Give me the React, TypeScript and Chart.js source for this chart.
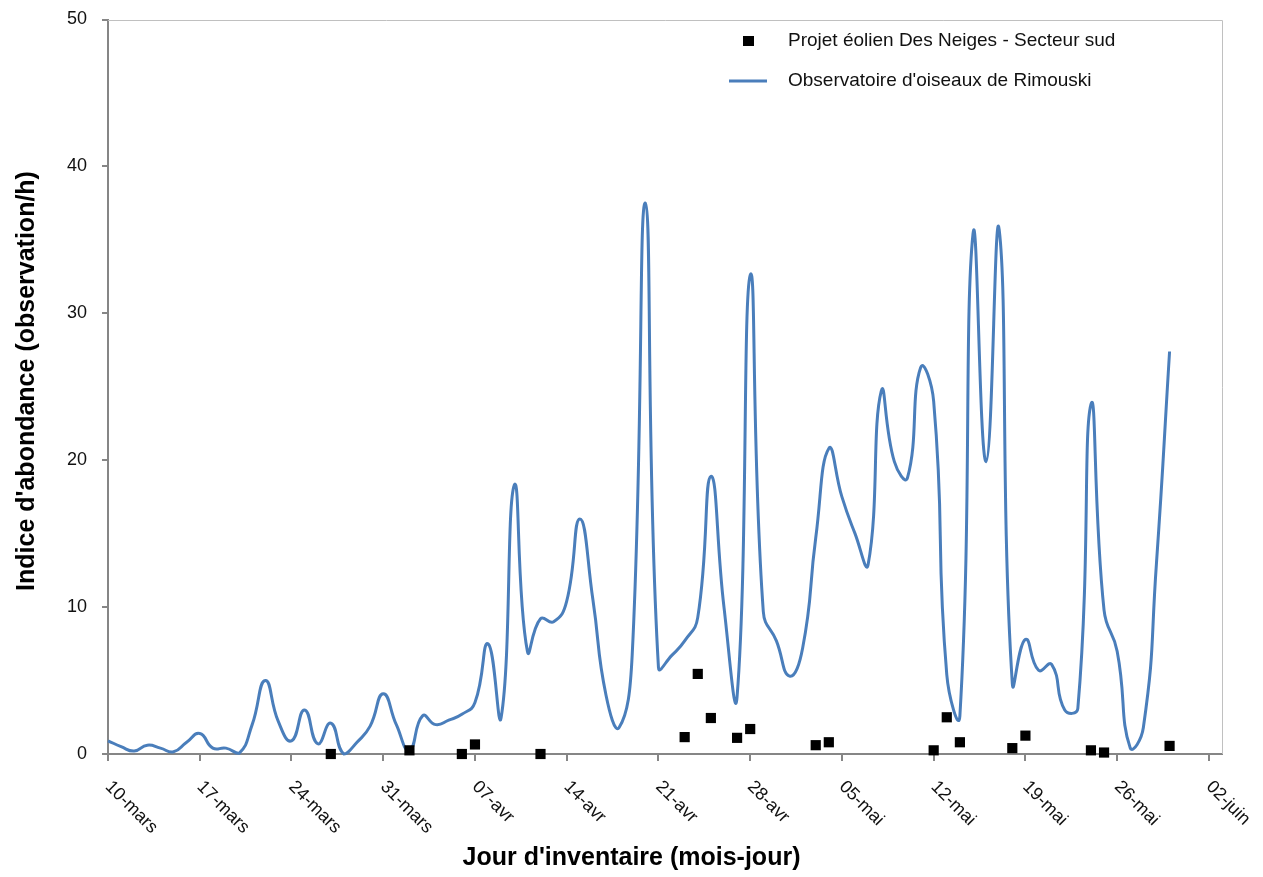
import { useEffect, useRef } from "react";
import { Chart, registerables } from "chart.js";

Chart.register(...registerables);

// Time frame of the survey (x axis runs in days since FIRST_DAY)
const FIRST_DAY = "2011-03-10";
const LAST_DAY = "2011-06-03";

const tickDates = [
  "2011-03-10", "2011-03-17", "2011-03-24", "2011-03-31", "2011-04-07",
  "2011-04-14", "2011-04-21", "2011-04-28", "2011-05-05", "2011-05-12",
  "2011-05-19", "2011-05-26", "2011-06-02",
];
const tickLabels = [
  "10-mars", "17-mars", "24-mars", "31-mars", "07-avr", "14-avr", "21-avr",
  "28-avr", "05-mai", "12-mai", "19-mai", "26-mai", "02-juin",
];
const yTicks = [0, 10, 20, 30, 40, 50];

// Observatoire d'oiseaux de Rimouski: one value per day from this date on
const rimouskiStart = "2011-03-10";
const rimouskiValues = [
  0.9, 0.5, 0.2, 0.6, 0.4, 0.15, 0.8, 1.4, 0.4, 0.4,
  0.05, 2.0, 5.0, 2.2, 0.9, 3.0, 0.7, 2.1, 0.0, 0.8,
  1.9, 4.1, 2.0, 0.25, 2.6, 2.0, 2.3, 2.7, 3.5, 7.5,
  2.5, 18.3, 7.0, 9.2, 9.0, 10.4, 16.0, 10.5, 4.0, 1.8,
  6.8, 37.5, 5.9, 6.7, 7.7, 9.3, 18.9, 10.0, 3.9, 32.6,
  9.7, 7.7, 5.3, 7.2, 14.7, 20.8, 17.5, 15.0, 12.9, 24.7,
  19.9, 18.8, 26.3, 24.0, 5.4, 2.6, 35.4, 19.9, 35.7, 4.8,
  7.8, 5.7, 6.1, 3.0, 3.1, 23.8, 9.8, 7.0, 0.4, 1.8,
  13.0, 27.4,
];

// Projet éolien Des Neiges - Secteur sud: survey days
const desNeigesDates = [
  "2011-03-27", "2011-04-02", "2011-04-06", "2011-04-07", "2011-04-12",
  "2011-04-23", "2011-04-24", "2011-04-25", "2011-04-27", "2011-04-28",
  "2011-05-03", "2011-05-04", "2011-05-12", "2011-05-13", "2011-05-14",
  "2011-05-18", "2011-05-19", "2011-05-24", "2011-05-25", "2011-05-30",
];
const desNeigesValues = [
  0, 0.25, 0, 0.65, 0,
  1.15, 5.45, 2.45, 1.1, 1.7,
  0.6, 0.8, 0.25, 2.5, 0.8,
  0.4, 1.25, 0.25, 0.1, 0.55,
];

const seriesNames = [
  "Projet éolien Des Neiges - Secteur sud",
  "Observatoire d'oiseaux de Rimouski",
];
const xTitle = "Jour d'inventaire (mois-jour)";
const yTitle = "Indice d'abondance (observation/h)";

const FONT = "'Liberation Sans', Arial, sans-serif";
const LINE_COLOR = "#4a7ebb";
const AXIS_COLOR = "#868686";

const DAY_MS = 86400000;
const dayOffset = (iso: string) => (Date.parse(iso) - Date.parse(FIRST_DAY)) / DAY_MS;

const decorations = {
  id: "decorations",
  beforeDatasetsDraw(chart: any) {
    const { ctx, chartArea: a } = chart;
    ctx.save();
    ctx.strokeStyle = "#c0c0c0";
    ctx.lineWidth = 1;
    ctx.beginPath();
    ctx.moveTo(a.left, Math.round(a.top) + 0.5);
    ctx.lineTo(Math.round(a.right) + 0.5, Math.round(a.top) + 0.5);
    ctx.lineTo(Math.round(a.right) + 0.5, a.bottom);
    ctx.stroke();
    ctx.restore();
  },
  afterDraw(chart: any) {
    const { ctx, chartArea: a } = chart;
    const xs = chart.scales.x;

    // slanted date labels under the x axis
    ctx.save();
    ctx.fillStyle = "#111";
    ctx.font = `18px ${FONT}`;
    ctx.textAlign = "left";
    ctx.textBaseline = "middle";
    tickDates.forEach((d, i) => {
      const px = xs.getPixelForValue(dayOffset(d));
      ctx.save();
      ctx.translate(px, a.bottom + 30);
      ctx.rotate(Math.PI / 4);
      ctx.fillText(tickLabels[i], 0, 0);
      ctx.restore();
    });
    ctx.restore();

    // axis titles
    ctx.save();
    ctx.fillStyle = "#000";
    ctx.font = `bold 25px ${FONT}`;
    ctx.textAlign = "center";
    ctx.textBaseline = "middle";
    ctx.fillText(xTitle, chart.width / 2, 858);
    ctx.translate(27, 381);
    ctx.rotate(-Math.PI / 2);
    ctx.fillText(yTitle, 0, 0);
    ctx.restore();

    // legend in the upper right of the plot
    ctx.save();
    ctx.fillStyle = "#000";
    ctx.fillRect(743, 36, 11, 10);
    ctx.strokeStyle = LINE_COLOR;
    ctx.lineWidth = 3;
    ctx.beginPath();
    ctx.moveTo(729, 81);
    ctx.lineTo(767, 81);
    ctx.stroke();
    ctx.fillStyle = "#111";
    ctx.font = `19px ${FONT}`;
    ctx.textAlign = "left";
    ctx.textBaseline = "middle";
    ctx.fillText(seriesNames[0], 788, 41);
    ctx.fillText(seriesNames[1], 788, 81);
    ctx.restore();
  },
};

export default function App() {
  const canvasRef = useRef<HTMLCanvasElement | null>(null);

  useEffect(() => {
    const canvas = canvasRef.current;
    if (!canvas) return;

    const rimouskiOrigin = dayOffset(rimouskiStart);
    const rimouskiData = rimouskiValues.map((v, i) => ({ x: rimouskiOrigin + i, y: v }));
    const desNeigesData = desNeigesDates.map((d, i) => ({ x: dayOffset(d), y: desNeigesValues[i] }));

    const chart = new Chart(canvas, {
      type: "line",
      data: {
        datasets: [
          {
            type: "scatter",
            label: seriesNames[0],
            data: desNeigesData,
            showLine: false,
            pointStyle: "rect",
            pointRadius: 7.2,
            pointBorderWidth: 0,
            backgroundColor: "#000",
            borderColor: "#000",
            clip: false,
          },
          {
            type: "line",
            label: seriesNames[1],
            data: rimouskiData,
            borderColor: LINE_COLOR,
            borderWidth: 3,
            pointRadius: 0,
            tension: 0.5,
            fill: false,
            clip: false,
          },
        ] as any,
      },
      options: {
        responsive: false,
        animation: false,
        events: [],
        layout: { padding: { top: 19.5, right: 41, left: 0, bottom: 0 } },
        plugins: {
          legend: { display: false },
          tooltip: { enabled: false },
          title: { display: false },
        },
        scales: {
          x: {
            type: "linear",
            min: 0,
            max: dayOffset(LAST_DAY),
            afterBuildTicks: (s: any) => {
              s.ticks = tickDates.map((d) => ({ value: dayOffset(d) }));
            },
            afterFit: (s: any) => {
              s.height = 123;
              s.paddingLeft = 0;
              s.paddingRight = 0;
            },
            ticks: { display: false },
            grid: {
              drawOnChartArea: false,
              drawTicks: true,
              tickLength: 7,
              color: AXIS_COLOR,
              lineWidth: 2,
            },
            border: { display: true, color: AXIS_COLOR, width: 2 },
          },
          y: {
            type: "linear",
            min: 0,
            max: 50,
            afterBuildTicks: (s: any) => {
              s.ticks = yTicks.map((v) => ({ value: v }));
            },
            afterFit: (s: any) => {
              s.width = 108;
              s.paddingTop = 0;
              s.paddingBottom = 0;
            },
            ticks: {
              padding: 15,
              color: "#111",
              font: { size: 18, family: FONT },
            },
            grid: {
              drawOnChartArea: false,
              drawTicks: true,
              tickLength: 6,
              color: AXIS_COLOR,
              lineWidth: 2,
            },
            border: { display: true, color: AXIS_COLOR, width: 2 },
          },
        },
      } as any,
      plugins: [decorations],
    });

    return () => chart.destroy();
  }, []);

  return (
    <div style={{ position: "fixed", left: 0, top: 0, width: 1263, height: 877, background: "#fff" }}>
      <canvas ref={canvasRef} width={1263} height={877} style={{ display: "block" }} />
    </div>
  );
}
